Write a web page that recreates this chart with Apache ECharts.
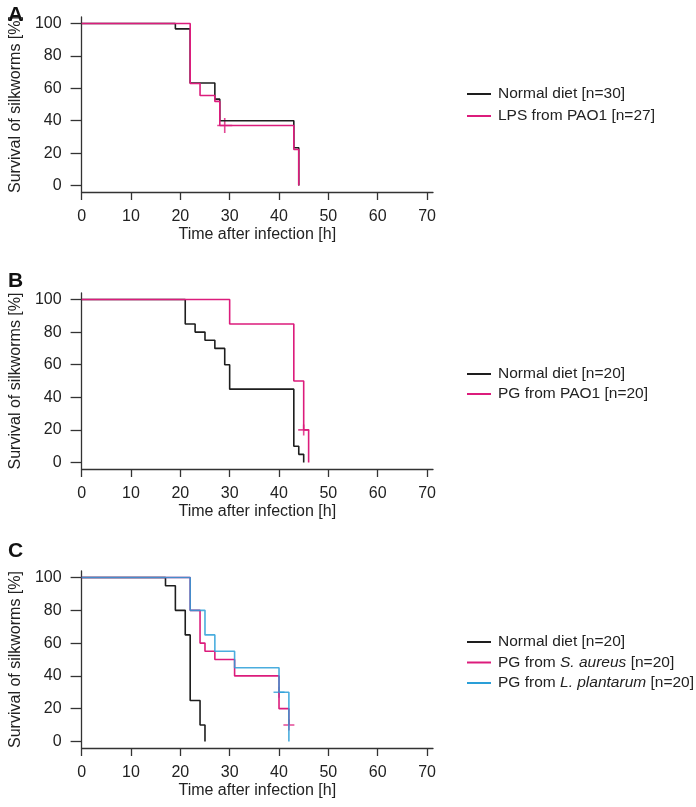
<!DOCTYPE html>
<html>
<head>
<meta charset="utf-8">
<script src="https://cdn.jsdelivr.net/npm/echarts@6/dist/echarts.min.js"></script>
<style>
html,body{margin:0;padding:0;background:#fff;}
#chart{width:696px;height:807px;}
</style>
</head>
<body>
<div id="chart"></div>
<script>
// ---- Data ----
const xTicks = [0, 10, 20, 30, 40, 50, 60, 70];
const yTicks = [0, 20, 40, 60, 80, 100];

// Panel A
const timeA_normal = [0, 19, 22, 27, 28, 43, 44];
const survA_normal = [100, 96.7, 63.3, 53.3, 40, 23.3, 0];
const timeA_lps = [0, 22, 24, 27, 28, 43, 44];
const survA_lps = [100, 63, 55.6, 51.9, 37, 22.2, 0];
const censorA_lps = [[29, 37]];

// Panel B
const timeB_normal = [0, 21, 23, 25, 27, 29, 30, 43, 44, 45];
const survB_normal = [100, 85, 80, 75, 70, 60, 45, 10, 5, 0];
const timeB_pg = [0, 30, 43, 45, 46];
const survB_pg = [100, 85, 50, 20, 0];
const censorB_pg = [[45, 20]];

// Panel C
const timeC_normal = [0, 17, 19, 21, 22, 24, 25];
const survC_normal = [100, 95, 80, 65, 25, 10, 0];
const timeC_sa = [0, 22, 24, 25, 27, 31, 40, 42];
const survC_sa = [100, 80, 60, 55, 50, 40, 20, 10];
const censorC_sa = [[42, 10]];
const timeC_lp = [0, 22, 25, 27, 31, 40, 42];
const survC_lp = [100, 80, 65, 55, 45, 30, 0];
const censorC_lp = [[40, 30]];

const namesA = ['Normal diet [n=30]', 'LPS from PAO1 [n=27]'];
const namesB = ['Normal diet [n=20]', 'PG from PAO1 [n=20]'];
const namesC = ['Normal diet [n=20]', 'PG from S. aureus [n=20]', 'PG from L. plantarum [n=20]'];

// ---- Styling ----
const FONT = '"Liberation Sans", Arial, Helvetica, sans-serif';
const BLACK = '#1e1e1e';
const PINK = '#dc1c7c';
const BLUE = '#2a9fd8';
const AX = '#333';

const grids = [
  {left: 81, top: 17, width: 352, height: 175},
  {left: 81, top: 293, width: 352, height: 176},
  {left: 81, top: 571, width: 352, height: 177}
];

function zip(t, s) { return t.map((v, i) => [v, s[i]]); }

function xAxisCfg(i) {
  return {
    type: 'value', gridIndex: i, min: 0, max: 71.2,
    axisLine: {show: true, onZero: false, lineStyle: {color: AX, width: 1.3}},
    axisTick: {show: true, customValues: xTicks, length: 8, inside: false, lineStyle: {color: AX, width: 1.3}},
    axisLabel: {customValues: xTicks, margin: 17, fontSize: 16, color: '#222', fontFamily: FONT},
    splitLine: {show: false},
    name: 'Time after infection [h]', nameLocation: 'middle', nameGap: 35,
    nameTextStyle: {fontSize: 16, color: '#222', fontFamily: FONT}
  };
}
function yAxisCfg(i) {
  return {
    type: 'value', gridIndex: i, min: -4, max: 104,
    axisLine: {show: true, onZero: false, lineStyle: {color: AX, width: 1.3}},
    axisTick: {show: true, customValues: yTicks, length: 11, inside: false, lineStyle: {color: AX, width: 1.3}},
    axisLabel: {customValues: yTicks, margin: 20, fontSize: 16, color: '#222', fontFamily: FONT},
    splitLine: {show: false},
    name: 'Survival of silkworms [%]', nameLocation: 'middle', nameGap: 51, nameRotate: 90,
    nameTextStyle: {fontSize: 16, color: '#222', fontFamily: FONT}
  };
}
function lineSeries(name, i, t, s, color, opacity) {
  return {
    name: name, type: 'line', xAxisIndex: i, yAxisIndex: i, step: 'end',
    data: zip(t, s), symbol: 'none', color: color,
    lineStyle: {color: color, width: 1.6, opacity: opacity || 1}
  };
}
const PLUS = 'path://M5,0 L5,10 M0,5 L10,5';
function censorSeries(i, data, color, size) {
  return {
    type: 'scatter', xAxisIndex: i, yAxisIndex: i, data: data,
    symbol: PLUS, symbolSize: size,
    itemStyle: {color: 'rgba(0,0,0,0)', borderColor: color, borderWidth: 1.6},
    silent: true
  };
}
function legendCfg(names, top, gap) {
  return {
    orient: 'vertical', left: 462, top: top, itemGap: gap,
    itemWidth: 24, itemHeight: 2, icon: 'rect',
    data: names,
    formatter: function (n) {
      return n.replace('S. aureus', '{i|S. aureus}').replace('L. plantarum', '{i|L. plantarum}');
    },
    textStyle: {
      fontSize: 15.5, color: '#222', fontFamily: FONT, lineHeight: 16, padding: [0, 0, 0, 2],
      rich: {i: {fontStyle: 'italic', fontSize: 15.5, color: '#222', fontFamily: FONT, lineHeight: 16}}
    }
  };
}

const option = {
  animation: false,
  backgroundColor: '#fff',
  title: [
    {text: 'A', left: 3, top: 0, textStyle: {fontSize: 21, fontWeight: 'bold', color: '#111', fontFamily: FONT}},
    {text: 'B', left: 3, top: 266, textStyle: {fontSize: 21, fontWeight: 'bold', color: '#111', fontFamily: FONT}},
    {text: 'C', left: 3, top: 536, textStyle: {fontSize: 21, fontWeight: 'bold', color: '#111', fontFamily: FONT}}
  ],
  grid: grids,
  xAxis: [xAxisCfg(0), xAxisCfg(1), xAxisCfg(2)],
  yAxis: [yAxisCfg(0), yAxisCfg(1), yAxisCfg(2)],
  legend: [
    legendCfg(namesA, 81, 6),
    legendCfg(namesB, 361, 4),
    legendCfg(namesC, 629, 4.5)
  ],
  series: [
    lineSeries(namesA[0], 0, timeA_normal, survA_normal, BLACK),
    lineSeries(namesA[1], 0, timeA_lps, survA_lps, PINK),
    censorSeries(0, censorA_lps, PINK, 15),

    lineSeries(namesB[0], 1, timeB_normal, survB_normal, BLACK),
    lineSeries(namesB[1], 1, timeB_pg, survB_pg, PINK),
    censorSeries(1, censorB_pg, PINK, 11),

    lineSeries(namesC[0], 2, timeC_normal, survC_normal, BLACK),
    lineSeries(namesC[1], 2, timeC_sa, survC_sa, PINK),
    lineSeries(namesC[2], 2, timeC_lp, survC_lp, BLUE, 0.85),
    censorSeries(2, censorC_sa, PINK, 11),
    censorSeries(2, censorC_lp, BLUE, 11)
  ]
};

const chart = echarts.init(document.getElementById('chart'), null, {renderer: 'canvas'});
chart.setOption(option);
</script>
</body>
</html>
